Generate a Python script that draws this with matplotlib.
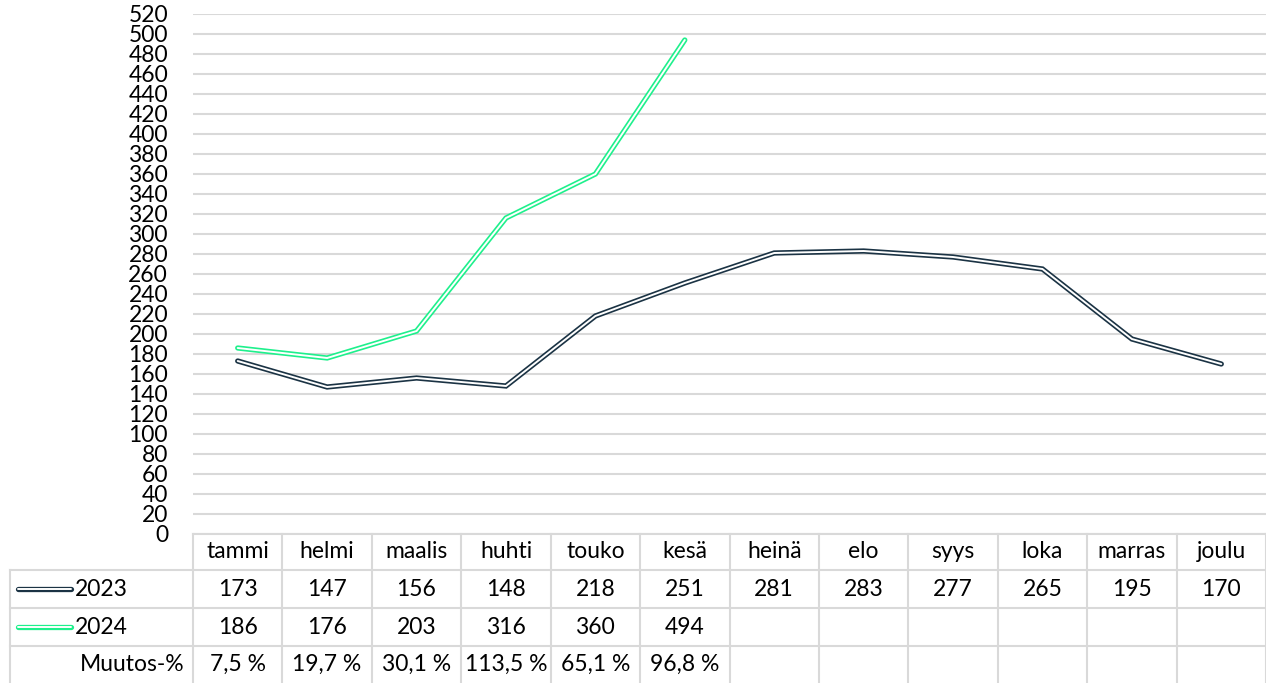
import matplotlib
matplotlib.use('Agg')
import matplotlib.pyplot as plt
from matplotlib.lines import Line2D

plt.rcParams['font.family'] = ['Lato', 'DejaVu Sans']

months = ['tammi', 'helmi', 'maalis', 'huhti', 'touko', 'kesä',
          'heinä', 'elo', 'syys', 'loka', 'marras', 'joulu']
v2023 = [173, 147, 156, 148, 218, 251, 281, 283, 277, 265, 195, 170]
v2024 = [186, 176, 203, 316, 360, 494]
muutos = ['7,5 %', '19,7 %', '30,1 %', '113,5 %', '65,1 %', '96,8 %']
yticks = list(range(0, 521, 20))

C23 = '#1b3344'
C24 = '#1ef08c'
GRID = '#d9d9d9'
FS = 16.5

W, H = 1266, 683
fig = plt.figure(figsize=(W / 100, H / 100), dpi=100)

# chart area
x0, x1 = 193, 1266
ytop, ybot = 14, 534
ax = fig.add_axes([x0 / W, 1 - ybot / H, (x1 - x0) / W, (ybot - ytop) / H])
ax.set_xlim(-0.5, len(months) - 0.5)
ax.set_ylim(0, 520)
ax.set_yticks(yticks)
ax.set_xticks([])
ax.tick_params(axis='y', length=0, pad=18, labelsize=FS)
for s in ax.spines.values():
    s.set_visible(False)
ax.grid(axis='y', color=GRID, lw=1.5)
ax.set_axisbelow(True)


def double_line(xs, ys, color):
    ax.plot(xs, ys, color=color, lw=3.8, solid_capstyle='round',
            solid_joinstyle='miter', zorder=3)
    ax.plot(xs, ys, color='white', lw=1.4, solid_capstyle='round',
            solid_joinstyle='miter', zorder=4)


double_line(range(len(v2023)), v2023, C23)
double_line(range(len(v2024)), v2024, C24)

# data table below the chart
tab = fig.add_axes([0, 0, 1, 1])
tab.set_xlim(0, W)
tab.set_ylim(H, 0)
tab.axis('off')

colw = (x1 - x0) / len(months)
row_y = [534, 570, 608, 646, 683]
lkw = dict(color=GRID, lw=1.5)

# horizontal lines
tab.plot([x0, W], [row_y[0], row_y[0]], **lkw)
for y in row_y[1:4]:
    tab.plot([10, W], [y, y], **lkw)
# vertical lines
for i in range(len(months) + 1):
    x = x0 + i * colw
    tab.plot([x, x], [row_y[0], H], **lkw)
tab.plot([10, 10], [row_y[1], H], **lkw)

centers = [x0 + (i + 0.5) * colw for i in range(len(months))]
mid = [(row_y[k] + row_y[k + 1]) / 2 for k in range(4)]

for i, m in enumerate(months):
    tab.text(centers[i], mid[0], m, ha='center', va='center', fontsize=FS)
for i, v in enumerate(v2023):
    tab.text(centers[i], mid[1], str(v), ha='center', va='center', fontsize=FS)
for i, v in enumerate(v2024):
    tab.text(centers[i], mid[2], str(v), ha='center', va='center', fontsize=FS)
for i, v in enumerate(muutos):
    tab.text(centers[i], mid[3], v, ha='center', va='center', fontsize=FS)

# legend keys in the table
for k, (lab, col) in enumerate([('2023', C23), ('2024', C24)]):
    y = mid[k + 1]
    tab.add_line(Line2D([18, 71], [y, y], color=col, lw=3.8, solid_capstyle='round'))
    tab.add_line(Line2D([18, 71], [y, y], color='white', lw=1.4, solid_capstyle='round'))
    tab.text(75, y, lab, ha='left', va='center', fontsize=FS)
tab.text(184, mid[3], 'Muutos-%', ha='right', va='center', fontsize=FS)

fig.savefig('out.png', dpi=100)
